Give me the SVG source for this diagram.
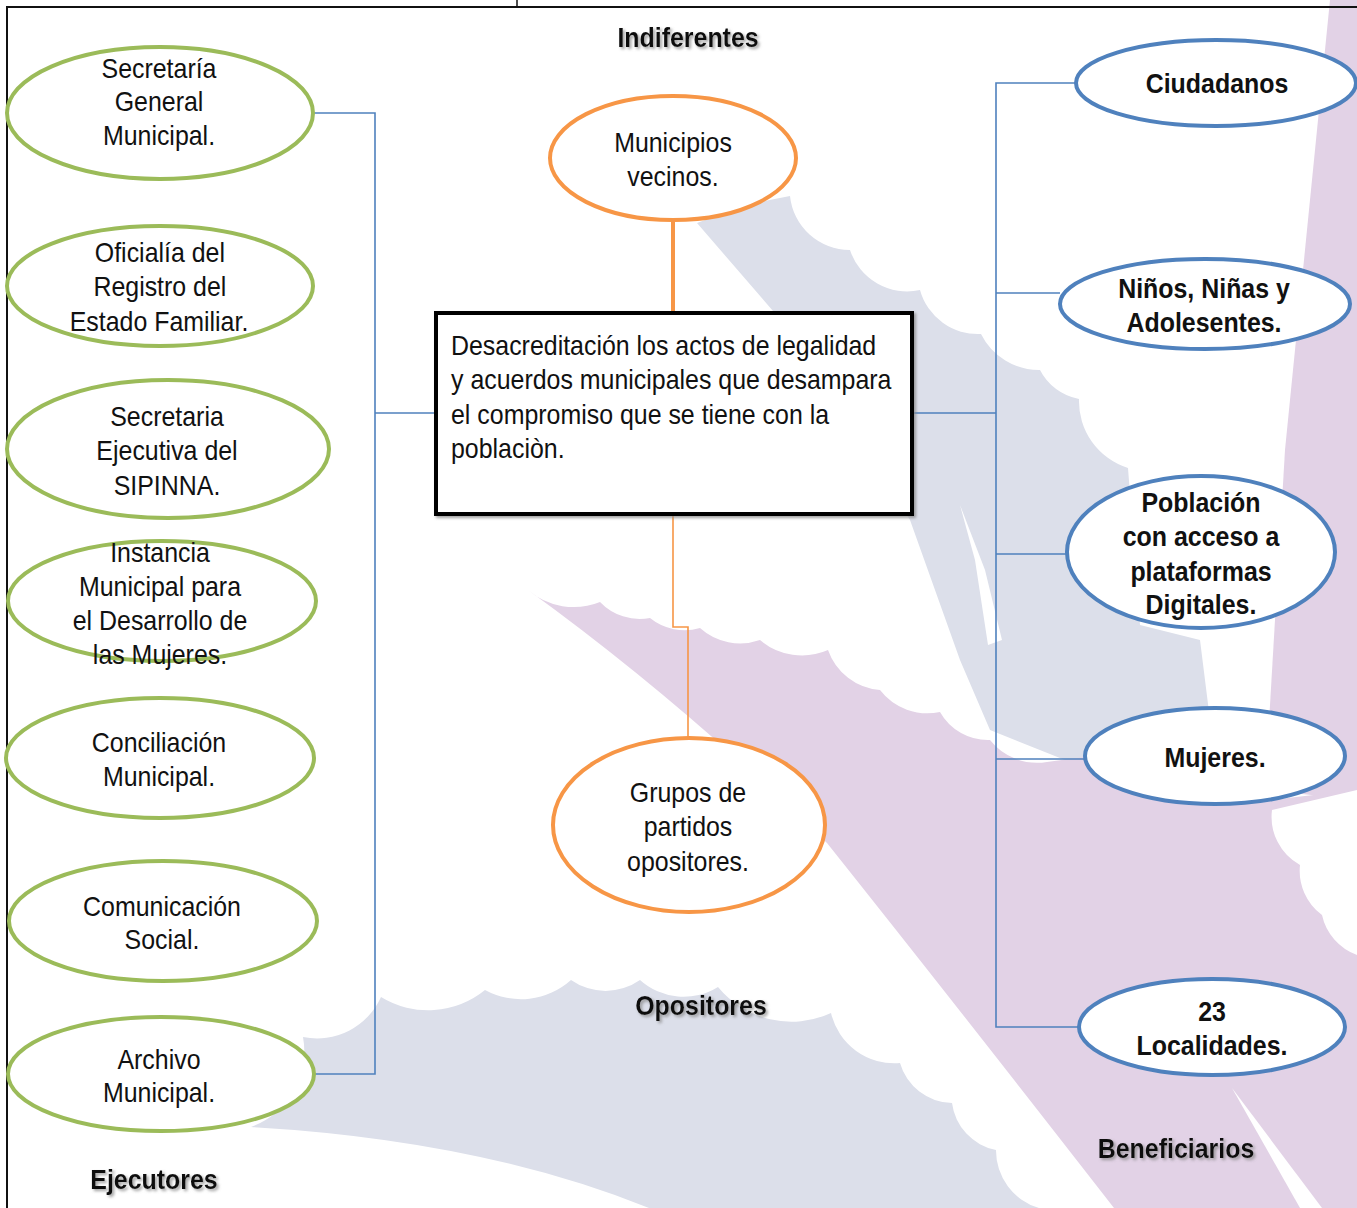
<svg xmlns="http://www.w3.org/2000/svg" width="1357" height="1208" viewBox="0 0 1357 1208">
<defs>
<style>
.t{font-family:"Liberation Sans Narrow","Liberation Sans",Arial,sans-serif;font-size:28px;fill:#111;text-anchor:middle}
.b{font-weight:bold}
.l{text-anchor:start}
.g{fill:#fff;stroke:#9bbb59;stroke-width:4}
.o{fill:#fff;stroke:#f79646;stroke-width:4}
.u{fill:#fff;stroke:#4f81bd;stroke-width:4}
.c{fill:none;stroke:#4f81bd;stroke-width:1.6}
.gray{fill:#dcdfea}
.lav{fill:#e2d2e6}
</style>
<filter id="sh" x="-10%" y="-30%" width="130%" height="170%">
<feDropShadow dx="2" dy="2" stdDeviation="1.5" flood-color="#888" flood-opacity="0.8"/>
</filter>
</defs>
<rect width="1357" height="1208" fill="#fff"/>
<g id="background">
<path class="gray" d="M697,223 L745,205 L790,196 A60,60 0 0 0 850,250 A60,60 0 0 0 920,290 A60,60 0 0 0 981,334 A65,65 0 0 0 1040,370 A55,55 0 0 0 1079,399 A70,70 0 0 0 1128,468 L1140,625 L1200,640 L1215,760 L1090,770 L990,730 L960,660 L910,520 L850,420 L773,311 Z"/>
<path fill="#fff" d="M960,505 L975,560 L988,645 L1002,640 L985,570 Z"/>
<path class="lav" d="M1330,0 L1357,0 L1357,800 L1265,790 L1285,450 Z"/>
<path class="lav" d="M528,590 A70,70 0 0 0 600,602 A55,55 0 0 0 650,618 A55,55 0 0 0 700,628 A60,60 0 0 0 760,640 A65,65 0 0 0 828,650 A60,60 0 0 0 880,690 A60,60 0 0 0 940,712 A55,55 0 0 0 990,740 A60,60 0 0 0 1047,762 L1084,757 L1270,800 L1357,790 L1357,1208 L1114,1208 Q960,1010 827,843 Q680,700 528,590 Z"/>
<path fill="#fff" d="M1272,810 A55,55 0 0 0 1300,865 A55,55 0 0 0 1322,915 A55,55 0 0 0 1357,955 L1357,790 Z"/>
<path fill="#fff" d="M1232,1088 L1300,1208 L1322,1208 Z"/>
<path class="gray" d="M251,1127 A80,80 0 0 0 303,1037 A70,70 0 0 0 381,997 A90,90 0 0 0 485,990 A75,75 0 0 0 571,980 A60,60 0 0 0 640,980 A65,65 0 0 0 718,987 A95,95 0 0 0 831,1013 A65,65 0 0 0 900,1063 A55,55 0 0 0 952,1103 A55,55 0 0 0 996,1150 A60,60 0 0 0 1039,1208 L649,1208 Q480,1140 251,1127 Z"/>
</g>
<g id="frame" stroke="#111" fill="none">
<line x1="7" y1="7" x2="1357" y2="7" stroke-width="2.2"/>
<line x1="7" y1="6" x2="7" y2="1208" stroke-width="2"/>
<line x1="517" y1="0" x2="517" y2="7" stroke-width="1.5"/>
</g>
<g id="connectors">
<polyline class="c" points="314,113 375,113 375,1074 314,1074"/>
<line class="c" x1="375" y1="413" x2="436" y2="413"/>
<line class="c" x1="912" y1="413" x2="996" y2="413"/>
<polyline class="c" points="1076,83 996,83 996,1027 1080,1027"/>
<line class="c" x1="996" y1="293" x2="1060" y2="293"/>
<line class="c" x1="996" y1="554" x2="1068" y2="554"/>
<line class="c" x1="996" y1="759" x2="1085" y2="759"/>
<line x1="673" y1="220" x2="673" y2="313" stroke="#f79646" stroke-width="4"/>
<polyline points="673,514 673,627 688,627 688,738" fill="none" stroke="#f79646" stroke-width="1.6"/>
</g>
<g id="central">
<rect x="436" y="313" width="476" height="201" fill="#fff" stroke="#000" stroke-width="4" filter="url(#sh)"/>
<text class="t l" transform="translate(451 0) scale(0.89 1)"><tspan x="0" y="355">Desacreditación los actos de legalidad</tspan><tspan x="0" y="389">y acuerdos municipales que desampara</tspan><tspan x="0" y="424">el compromiso que se tiene con la</tspan><tspan x="0" y="458">poblaciòn.</tspan></text>
</g>
<g id="n-secretaria-general"><ellipse class="g" cx="160" cy="113" rx="153" ry="66"/><text class="t" transform="translate(159 0) scale(0.89 1)"><tspan x="0" y="78">Secretaría</tspan><tspan x="0" y="111">General</tspan><tspan x="0" y="145">Municipal.</tspan></text></g>
<g id="n-oficialia"><ellipse class="g" cx="160" cy="286" rx="153" ry="60"/><text class="t" transform="translate(159 0) scale(0.89 1)"><tspan x="1" y="262">Oficialía del</tspan><tspan x="1" y="296">Registro del</tspan><tspan x="0" y="331">Estado Familiar.</tspan></text></g>
<g id="n-sipinna"><ellipse class="g" cx="168" cy="449" rx="161" ry="69"/><text class="t" transform="translate(167 0) scale(0.89 1)"><tspan x="0" y="426">Secretaria</tspan><tspan x="0" y="460">Ejecutiva del</tspan><tspan x="0" y="495">SIPINNA.</tspan></text></g>
<g id="n-instancia"><ellipse class="g" cx="162" cy="601" rx="154" ry="60"/><text class="t" transform="translate(160 0) scale(0.89 1)"><tspan x="0" y="562">Instancia</tspan><tspan x="0" y="596">Municipal para</tspan><tspan x="0" y="630">el Desarrollo de</tspan><tspan x="0" y="664">las Mujeres.</tspan></text></g>
<g id="n-conciliacion"><ellipse class="g" cx="160" cy="758" rx="154" ry="60"/><text class="t" transform="translate(159 0) scale(0.89 1)"><tspan x="0" y="752">Conciliación</tspan><tspan x="0" y="786">Municipal.</tspan></text></g>
<g id="n-comunicacion"><ellipse class="g" cx="163" cy="921" rx="154" ry="60"/><text class="t" transform="translate(162 0) scale(0.89 1)"><tspan x="0" y="916">Comunicación</tspan><tspan x="0" y="949">Social.</tspan></text></g>
<g id="n-archivo"><ellipse class="g" cx="161" cy="1074" rx="153" ry="57"/><text class="t" transform="translate(159 0) scale(0.89 1)"><tspan x="0" y="1069">Archivo</tspan><tspan x="0" y="1102">Municipal.</tspan></text></g>
<g id="n-municipios"><ellipse class="o" cx="673" cy="158" rx="123" ry="62"/><text class="t" transform="translate(673 0) scale(0.89 1)"><tspan x="0" y="152">Municipios</tspan><tspan x="0" y="186">vecinos.</tspan></text></g>
<g id="n-grupos"><ellipse class="o" cx="689" cy="825" rx="136" ry="87"/><text class="t" transform="translate(688 0) scale(0.89 1)"><tspan x="0" y="802">Grupos de</tspan><tspan x="0" y="836">partidos</tspan><tspan x="0" y="871">opositores.</tspan></text></g>
<g id="n-ciudadanos"><ellipse class="u" cx="1216" cy="83" rx="140" ry="43"/><text class="t b" transform="translate(1217 0) scale(0.89 1)" x="0" y="93">Ciudadanos</text></g>
<g id="n-ninos"><ellipse class="u" cx="1205" cy="304" rx="145" ry="45"/><text class="t b" transform="translate(1204 0) scale(0.89 1)"><tspan x="0" y="298">Niños, Niñas y</tspan><tspan x="0" y="332">Adolesentes.</tspan></text></g>
<g id="n-poblacion"><ellipse class="u" cx="1201" cy="552" rx="134" ry="76"/><text class="t b" transform="translate(1201 0) scale(0.89 1)"><tspan x="0" y="512">Población</tspan><tspan x="0" y="546">con acceso a</tspan><tspan x="0" y="581">plataformas</tspan><tspan x="0" y="614">Digitales.</tspan></text></g>
<g id="n-mujeres"><ellipse class="u" cx="1215" cy="756" rx="130" ry="48"/><text class="t b" transform="translate(1215 0) scale(0.89 1)" x="0" y="767">Mujeres.</text></g>
<g id="n-localidades"><ellipse class="u" cx="1212" cy="1027" rx="133" ry="48"/><text class="t b" transform="translate(1212 0) scale(0.89 1)"><tspan x="0" y="1021">23</tspan><tspan x="0" y="1055">Localidades.</tspan></text></g>
<g id="labels" filter="url(#sh)">
<text class="t b" transform="translate(688 0) scale(0.89 1)" x="0" y="47">Indiferentes</text>
<text class="t b" transform="translate(701 0) scale(0.89 1)" x="0" y="1015">Opositores</text>
<text class="t b" transform="translate(154 0) scale(0.89 1)" x="0" y="1189">Ejecutores</text>
<text class="t b" transform="translate(1176 0) scale(0.89 1)" x="0" y="1158">Beneficiarios</text>
</g>
</svg>
